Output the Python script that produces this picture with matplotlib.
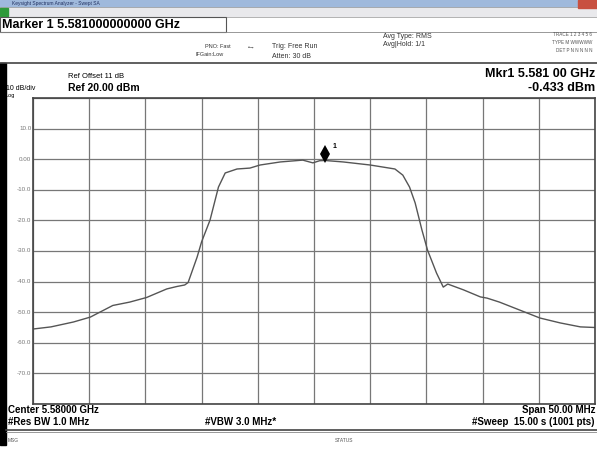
import numpy as np
import matplotlib.pyplot as plt
from matplotlib.patches import Rectangle

plt.rcParams['font.family'] = ['Liberation Sans', 'DejaVu Sans']

# trace, offset from centre in MHz and level in dBm
center_ghz = 5.58
offset_mhz = [-25.0, -23.4, -21.4, -19.9, -17.9, -16.4, -14.9, -13.1, -12.2, -11.5,
              -11.2, -10.4, -10.0, -9.25, -8.5, -7.9, -6.85, -5.7, -4.8, -3.0,
              -1.0, -0.1, 0.5, 1.0, 2.6, 5.0, 7.2, 7.9, 8.5, 9.0,
              9.6, 10.1, 10.9, 11.5, 11.9, 13.3, 14.8, 15.4, 16.5, 18.3,
              20.1, 21.9, 23.7, 25.0]
level_dbm = [-55.5, -54.8, -53.2, -51.6, -47.8, -46.7, -45.2, -42.4, -41.6, -41.1,
             -40.3, -32.0, -27.0, -19.9, -9.1, -4.5, -3.2, -2.9, -1.9, -0.9,
             -0.3, -1.2, -0.5, -0.43, -0.9, -1.9, -3.2, -5.2, -9.1, -14.3,
             -23.1, -29.7, -37.2, -41.8, -40.8, -42.7, -45.0, -45.4, -46.7, -49.3,
             -51.9, -53.5, -54.8, -55.0]
marker_mhz = 1.0
marker_dbm = -0.433
ytick_vals = [10, 0, -10, -20, -30, -40, -50, -60, -70]
ytick_text = ["10.0", "0.00", "-10.0", "-20.0", "-30.0", "-40.0", "-50.0", "-60.0", "-70.0"]

freq = center_ghz + np.array(offset_mhz) / 1000.0

fig = plt.figure(figsize=(5.97, 4.5), dpi=100)

# screen chrome, drawn in pixel coordinates
bg = fig.add_axes([0, 0, 1, 1])
bg.set_xlim(0, 597)
bg.set_ylim(450, 0)
bg.axis("off")
bg.add_patch(Rectangle((0, 0), 597, 7, color="#9fb9dc"))
bg.add_patch(Rectangle((0, 7), 597, 10, color="#e9e9ec", ec="#999999", lw=0.5))
bg.add_patch(Rectangle((0, 8), 8, 8, color="#2e9a3a"))
bg.add_patch(Rectangle((578, 0), 19, 8, color="#c85040"))
bg.add_patch(Rectangle((0, 17), 226, 15, fc="white", ec="#555555", lw=0.8))
bg.add_patch(Rectangle((0, 63), 6, 382, color="black"))
bg.plot([0, 597], [63, 63], color="#444444", lw=1.2)
bg.plot([0, 597], [32, 32], color="#888888", lw=0.6)
bg.plot([6, 597], [430, 430], color="#444444", lw=1.2)
bg.plot([6, 597], [432, 432], color="#888888", lw=0.6)
bg.text(2, 25, "Marker 1 5.581000000000 GHz", fontsize=9, fontweight="bold", va="center")
bg.text(12, 4, "Keysight Spectrum Analyzer - Swept SA", fontsize=3.5, color="#203060", va="center")
bg.text(205, 46, "PNO: Fast", fontsize=4, ha="left", va="center", color="#333333")
bg.text(195, 55, "IFGain:Low", fontsize=4, ha="left", va="center", color="#333333")
bg.text(248, 48, "\u2022\u2192", fontsize=4, va="center", color="#333333")
bg.text(272, 46, "Trig: Free Run", fontsize=5, va="center", color="#333333")
bg.text(272, 56, "Atten: 30 dB", fontsize=5, va="center", color="#333333")
bg.text(383, 36, "Avg Type: RMS", fontsize=5, va="center", color="#333333")
bg.text(383, 44, "Avg|Hold: 1/1", fontsize=5, va="center", color="#333333")
bg.text(592, 34, "TRACE 1 2 3 4 5 6", fontsize=3.3, ha="right", va="center", color="#555555")
bg.text(592, 42, "TYPE M WWWWW", fontsize=3.3, ha="right", va="center", color="#555555")
bg.text(592, 50, "DET P N N N N N", fontsize=3.3, ha="right", va="center", color="#555555")
bg.text(68, 77, "Ref Offset 11 dB", fontsize=5.5, va="center")
bg.text(68, 88, "Ref 20.00 dBm", fontsize=7.5, fontweight="bold", va="center")
bg.text(6, 89, "10 dB/div", fontsize=5, va="center")
bg.text(6, 96, "Log", fontsize=4, va="center")
bg.text(595, 74, "Mkr1 5.581 00 GHz", fontsize=9, fontweight="bold", ha="right", va="center")
bg.text(595, 88, "-0.433 dBm", fontsize=9, fontweight="bold", ha="right", va="center")
bg.text(8, 410, "Center 5.58000 GHz", fontsize=7, fontweight="bold", va="center")
bg.text(8, 422, "#Res BW 1.0 MHz", fontsize=7, fontweight="bold", va="center")
bg.text(205, 422, "#VBW 3.0 MHz*", fontsize=7, fontweight="bold", va="center")
bg.text(595, 410, "Span 50.00 MHz", fontsize=7, fontweight="bold", ha="right", va="center")
bg.text(595, 422, "#Sweep  15.00 s (1001 pts)", fontsize=7, fontweight="bold", ha="right", va="center")
bg.text(8, 441, "MSG", fontsize=3.5, va="center", color="#555555")
bg.text(335, 441, "STATUS", fontsize=3.5, va="center", color="#555555")

ax = fig.add_axes([33 / 597, 1 - 404 / 450, 562 / 597, 306 / 450])
ax.plot(freq, level_dbm, color="#555555", lw=1.0)
ax.set_xlim(center_ghz - 0.025, center_ghz + 0.025)
ax.set_ylim(-80, 20)
ax.set_xticks(center_ghz + np.arange(-0.025, 0.0251, 0.005))
ax.set_yticks(np.arange(-80, 21, 10))
ax.grid(True, color="#777777", lw=0.9)
ax.tick_params(length=0, labelbottom=False, labelleft=False)
for sp in ax.spines.values():
    sp.set_color("#444444")
    sp.set_linewidth(1.2)
for v, t in zip(ytick_vals, ytick_text):
    ax.text(-0.003, v, t, transform=ax.get_yaxis_transform(), fontsize=4.5,
            color="#777777", ha="right", va="center")

mx = center_ghz + marker_mhz / 1000.0
ax.plot(mx, marker_dbm + 2.2, marker="d", ms=9, color="black", mew=0)
ax.annotate("1", (mx, marker_dbm + 2.2), xytext=(5, 4), textcoords="offset points",
            fontsize=5, fontweight="bold")

fig.savefig("out.png", dpi=100)
